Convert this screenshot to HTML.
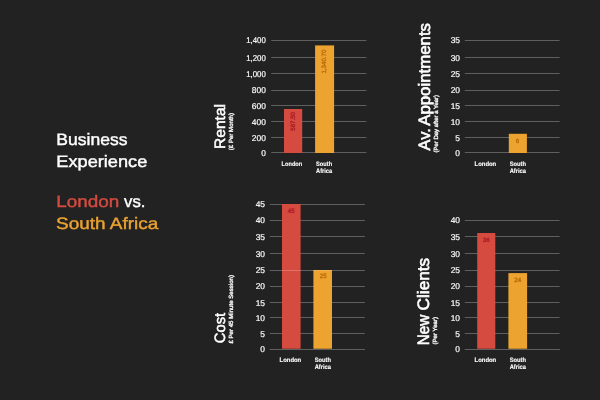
<!DOCTYPE html>
<html><head><meta charset="utf-8"><title>Business Experience</title>
<style>
html,body{margin:0;padding:0;background:#222222;}
body{width:600px;height:400px;overflow:hidden;}
svg{display:block;}
text{font-family:"Liberation Sans",sans-serif;text-rendering:geometricPrecision;}
.tick{font-size:8.4px;fill:#fff;stroke:#fff;stroke-width:.18px;}
.cat{font-size:6.4px;fill:#fff;font-weight:bold;stroke:#fff;stroke-width:.12px;}
.val{font-size:6.2px;stroke-width:.3px;}
.title{fill:#fff;stroke:#fff;stroke-width:.5px;}
.sub{font-size:6px;fill:#fff;stroke:#fff;stroke-width:.3px;}
.big{font-size:16.5px;stroke-width:.4px;}
</style></head><body>
<svg width="600" height="400" viewBox="0 0 600 400">
<rect width="600" height="400" fill="#222222"/>
<rect x="271.2" y="40" width="95.20" height="1" fill="#5f5f5f"/>
<rect x="271.2" y="57" width="95.20" height="1" fill="#5f5f5f"/>
<rect x="271.2" y="73" width="95.20" height="1" fill="#5f5f5f"/>
<rect x="271.2" y="90" width="95.20" height="1" fill="#5f5f5f"/>
<rect x="271.2" y="105" width="95.20" height="1" fill="#5f5f5f"/>
<rect x="271.2" y="121" width="95.20" height="1" fill="#5f5f5f"/>
<rect x="271.2" y="137" width="95.20" height="1" fill="#5f5f5f"/>
<rect x="271.2" y="152" width="95.20" height="1" fill="#5f5f5f"/>
<text x="246.20" y="43.30" class="tick" textLength="19.6" lengthAdjust="spacingAndGlyphs">1,400</text>
<text x="246.20" y="61.00" class="tick" textLength="19.6" lengthAdjust="spacingAndGlyphs">1,200</text>
<text x="246.20" y="77.00" class="tick" textLength="19.6" lengthAdjust="spacingAndGlyphs">1,000</text>
<text x="265.80" y="93.45" text-anchor="end" class="tick">800</text>
<text x="265.80" y="109.14" text-anchor="end" class="tick">600</text>
<text x="265.80" y="124.65" text-anchor="end" class="tick">400</text>
<text x="265.80" y="141.30" text-anchor="end" class="tick">200</text>
<text x="265.80" y="156.30" text-anchor="end" class="tick">0</text>
<rect x="284" y="109" width="18.20" height="44.00" fill="#d64b40"/>
<rect x="315.1" y="45.4" width="19.00" height="107.60" fill="#eda32f"/>
<text x="281.60" y="165.9" class="cat" textLength="20.6" lengthAdjust="spacingAndGlyphs">London</text>
<text x="316.10" y="165.9" class="cat" textLength="16" lengthAdjust="spacingAndGlyphs">South</text>
<text x="316.10" y="172.9" class="cat" textLength="16" lengthAdjust="spacingAndGlyphs">Africa</text>
<text transform="translate(225,149.0) rotate(-90)" class="title" style="font-size:15px;stroke-width:0.5px" textLength="45" lengthAdjust="spacingAndGlyphs">Rental</text>
<text transform="translate(232.6,150.2) rotate(-90)" class="sub" textLength="37.2" lengthAdjust="spacingAndGlyphs">(£ Per Month)</text>
<text transform="translate(294.7,130.7) rotate(-90)" class="val" fill="#a91a24" stroke="#a91a24" textLength="18.7" lengthAdjust="spacingAndGlyphs">567.50</text>
<text transform="translate(326,73.6) rotate(-90)" class="val" fill="#b96a08" stroke="#b96a08" textLength="24" lengthAdjust="spacingAndGlyphs">1,340.70</text>
<rect x="464.8" y="40" width="94.80" height="1" fill="#5f5f5f"/>
<rect x="464.8" y="57" width="94.80" height="1" fill="#5f5f5f"/>
<rect x="464.8" y="73" width="94.80" height="1" fill="#5f5f5f"/>
<rect x="464.8" y="90" width="94.80" height="1" fill="#5f5f5f"/>
<rect x="464.8" y="105" width="94.80" height="1" fill="#5f5f5f"/>
<rect x="464.8" y="121" width="94.80" height="1" fill="#5f5f5f"/>
<rect x="464.8" y="137" width="94.80" height="1" fill="#5f5f5f"/>
<rect x="464.8" y="152" width="94.80" height="1" fill="#5f5f5f"/>
<text x="460.00" y="43.30" text-anchor="end" class="tick">35</text>
<text x="460.00" y="61.00" text-anchor="end" class="tick">30</text>
<text x="460.00" y="77.00" text-anchor="end" class="tick">25</text>
<text x="460.00" y="93.45" text-anchor="end" class="tick">20</text>
<text x="460.00" y="109.14" text-anchor="end" class="tick">15</text>
<text x="460.00" y="124.65" text-anchor="end" class="tick">10</text>
<text x="460.00" y="141.30" text-anchor="end" class="tick">5</text>
<text x="460.00" y="156.30" text-anchor="end" class="tick">0</text>
<rect x="508.8" y="133.8" width="18.10" height="19.20" fill="#eda32f"/>
<text x="474.55" y="165.9" class="cat" textLength="21.7" lengthAdjust="spacingAndGlyphs">London</text>
<text x="509.65" y="165.9" class="cat" textLength="16.3" lengthAdjust="spacingAndGlyphs">South</text>
<text x="509.65" y="172.9" class="cat" textLength="16.3" lengthAdjust="spacingAndGlyphs">Africa</text>
<text transform="translate(429.6,150.4) rotate(-90)" class="title" style="font-size:16.5px;stroke-width:0.6px" textLength="22.2" lengthAdjust="spacingAndGlyphs">Av.</text>
<text transform="translate(429.6,125.8) rotate(-90)" class="title" style="font-size:16.5px;stroke-width:0.6px" textLength="102.8" lengthAdjust="spacingAndGlyphs">Appointments</text>
<text transform="translate(437.6,152.4) rotate(-90)" class="sub" textLength="57.4" lengthAdjust="spacingAndGlyphs">(Per Day after a Year)</text>
<text x="517.6" y="143" text-anchor="middle" class="val" fill="#b96a08" stroke="#b96a08">6</text>
<rect x="269.8" y="204" width="95.00" height="1" fill="#5f5f5f"/>
<rect x="269.8" y="220" width="95.00" height="1" fill="#5f5f5f"/>
<rect x="269.8" y="236" width="95.00" height="1" fill="#5f5f5f"/>
<rect x="269.8" y="253" width="95.00" height="1" fill="#5f5f5f"/>
<rect x="269.8" y="270" width="95.00" height="1" fill="#5f5f5f"/>
<rect x="269.8" y="286" width="95.00" height="1" fill="#5f5f5f"/>
<rect x="269.8" y="302" width="95.00" height="1" fill="#5f5f5f"/>
<rect x="269.8" y="317" width="95.00" height="1" fill="#5f5f5f"/>
<rect x="269.8" y="333" width="95.00" height="1" fill="#5f5f5f"/>
<rect x="269.8" y="349" width="95.00" height="1" fill="#5f5f5f"/>
<text x="265.00" y="207.25" text-anchor="end" class="tick">45</text>
<text x="265.00" y="223.40" text-anchor="end" class="tick">40</text>
<text x="265.00" y="240.10" text-anchor="end" class="tick">35</text>
<text x="265.00" y="257.25" text-anchor="end" class="tick">30</text>
<text x="265.00" y="273.40" text-anchor="end" class="tick">25</text>
<text x="265.00" y="289.10" text-anchor="end" class="tick">20</text>
<text x="265.00" y="306.10" text-anchor="end" class="tick">15</text>
<text x="265.00" y="320.50" text-anchor="end" class="tick">10</text>
<text x="265.00" y="337.40" text-anchor="end" class="tick">5</text>
<text x="265.00" y="352.20" text-anchor="end" class="tick">0</text>
<rect x="282" y="204" width="18.60" height="144.75" fill="#d64b40"/>
<rect x="313.4" y="270" width="18.60" height="78.75" fill="#eda32f"/>
<rect x="269.8" y="349" width="95.00" height="1" fill="#5f5f5f"/>
<text x="279.55" y="362" class="cat" textLength="21.7" lengthAdjust="spacingAndGlyphs">London</text>
<text x="314.65" y="362" class="cat" textLength="16.3" lengthAdjust="spacingAndGlyphs">South</text>
<text x="314.65" y="369" class="cat" textLength="16.3" lengthAdjust="spacingAndGlyphs">Africa</text>
<text transform="translate(225.1,343.2) rotate(-90)" class="title" style="font-size:15px;stroke-width:0.5px" textLength="30.4" lengthAdjust="spacingAndGlyphs">Cost</text>
<text transform="translate(233.2,343.6) rotate(-90)" class="sub" textLength="68.6" lengthAdjust="spacingAndGlyphs">£ Per 45 Minute Session)</text>
<rect x="282" y="270" width="18.6" height="1" fill="#ffffff" fill-opacity=".22"/><rect x="313.4" y="270" width="18.6" height="1" fill="#ffffff" fill-opacity=".18"/>
<text x="291.3" y="213" text-anchor="middle" class="val" fill="#a91a24" stroke="#a91a24">45</text>
<text x="323.2" y="278" text-anchor="middle" class="val" fill="#b96a08" stroke="#b96a08">25</text>
<rect x="464.8" y="220" width="94.80" height="1" fill="#5f5f5f"/>
<rect x="464.8" y="236" width="94.80" height="1" fill="#5f5f5f"/>
<rect x="464.8" y="253" width="94.80" height="1" fill="#5f5f5f"/>
<rect x="464.8" y="270" width="94.80" height="1" fill="#5f5f5f"/>
<rect x="464.8" y="286" width="94.80" height="1" fill="#5f5f5f"/>
<rect x="464.8" y="302" width="94.80" height="1" fill="#5f5f5f"/>
<rect x="464.8" y="317" width="94.80" height="1" fill="#5f5f5f"/>
<rect x="464.8" y="333" width="94.80" height="1" fill="#5f5f5f"/>
<rect x="464.8" y="349" width="94.80" height="1" fill="#5f5f5f"/>
<text x="460.00" y="223.40" text-anchor="end" class="tick">40</text>
<text x="460.00" y="240.10" text-anchor="end" class="tick">35</text>
<text x="460.00" y="257.25" text-anchor="end" class="tick">30</text>
<text x="460.00" y="273.40" text-anchor="end" class="tick">25</text>
<text x="460.00" y="289.10" text-anchor="end" class="tick">20</text>
<text x="460.00" y="306.10" text-anchor="end" class="tick">15</text>
<text x="460.00" y="320.50" text-anchor="end" class="tick">10</text>
<text x="460.00" y="337.40" text-anchor="end" class="tick">5</text>
<text x="460.00" y="352.20" text-anchor="end" class="tick">0</text>
<rect x="477.2" y="233" width="18.10" height="115.75" fill="#d64b40"/>
<rect x="508.4" y="273.1" width="18.70" height="75.65" fill="#eda32f"/>
<rect x="464.8" y="349" width="94.80" height="1" fill="#5f5f5f"/>
<text x="474.55" y="362" class="cat" textLength="21.7" lengthAdjust="spacingAndGlyphs">London</text>
<text x="509.65" y="362" class="cat" textLength="16.3" lengthAdjust="spacingAndGlyphs">South</text>
<text x="509.65" y="369" class="cat" textLength="16.3" lengthAdjust="spacingAndGlyphs">Africa</text>
<text transform="translate(429.1,345.2) rotate(-90)" class="title" style="font-size:16.5px;stroke-width:0.6px" textLength="30.6" lengthAdjust="spacingAndGlyphs">New</text>
<text transform="translate(429.1,310.4) rotate(-90)" class="title" style="font-size:16.5px;stroke-width:0.6px" textLength="52.6" lengthAdjust="spacingAndGlyphs">Clients</text>
<text transform="translate(436.8,344.5) rotate(-90)" class="sub" textLength="27.5" lengthAdjust="spacingAndGlyphs">(Per Year)</text>
<text x="486.2" y="241.5" text-anchor="middle" class="val" fill="#a91a24" stroke="#a91a24">36</text>
<text x="517.7" y="281.5" text-anchor="middle" class="val" fill="#b96a08" stroke="#b96a08">24</text>
<text x="56.3" y="145.4" class="big" fill="#fff" stroke="#fff" textLength="71.2" lengthAdjust="spacingAndGlyphs">Business</text>
<text x="56.3" y="167.0" class="big" fill="#fff" stroke="#fff" textLength="91" lengthAdjust="spacingAndGlyphs">Experience</text>
<text x="56.2" y="207.3" class="big" fill="#d64b40" stroke="#d64b40" textLength="63" lengthAdjust="spacingAndGlyphs">London</text>
<text x="124.1" y="207.3" class="big" fill="#fff" stroke="#fff" textLength="21.4" lengthAdjust="spacingAndGlyphs">vs.</text>
<text x="56" y="228.8" class="big" fill="#eda32f" stroke="#eda32f" textLength="102.2" lengthAdjust="spacingAndGlyphs">South Africa</text>
</svg>
</body></html>
